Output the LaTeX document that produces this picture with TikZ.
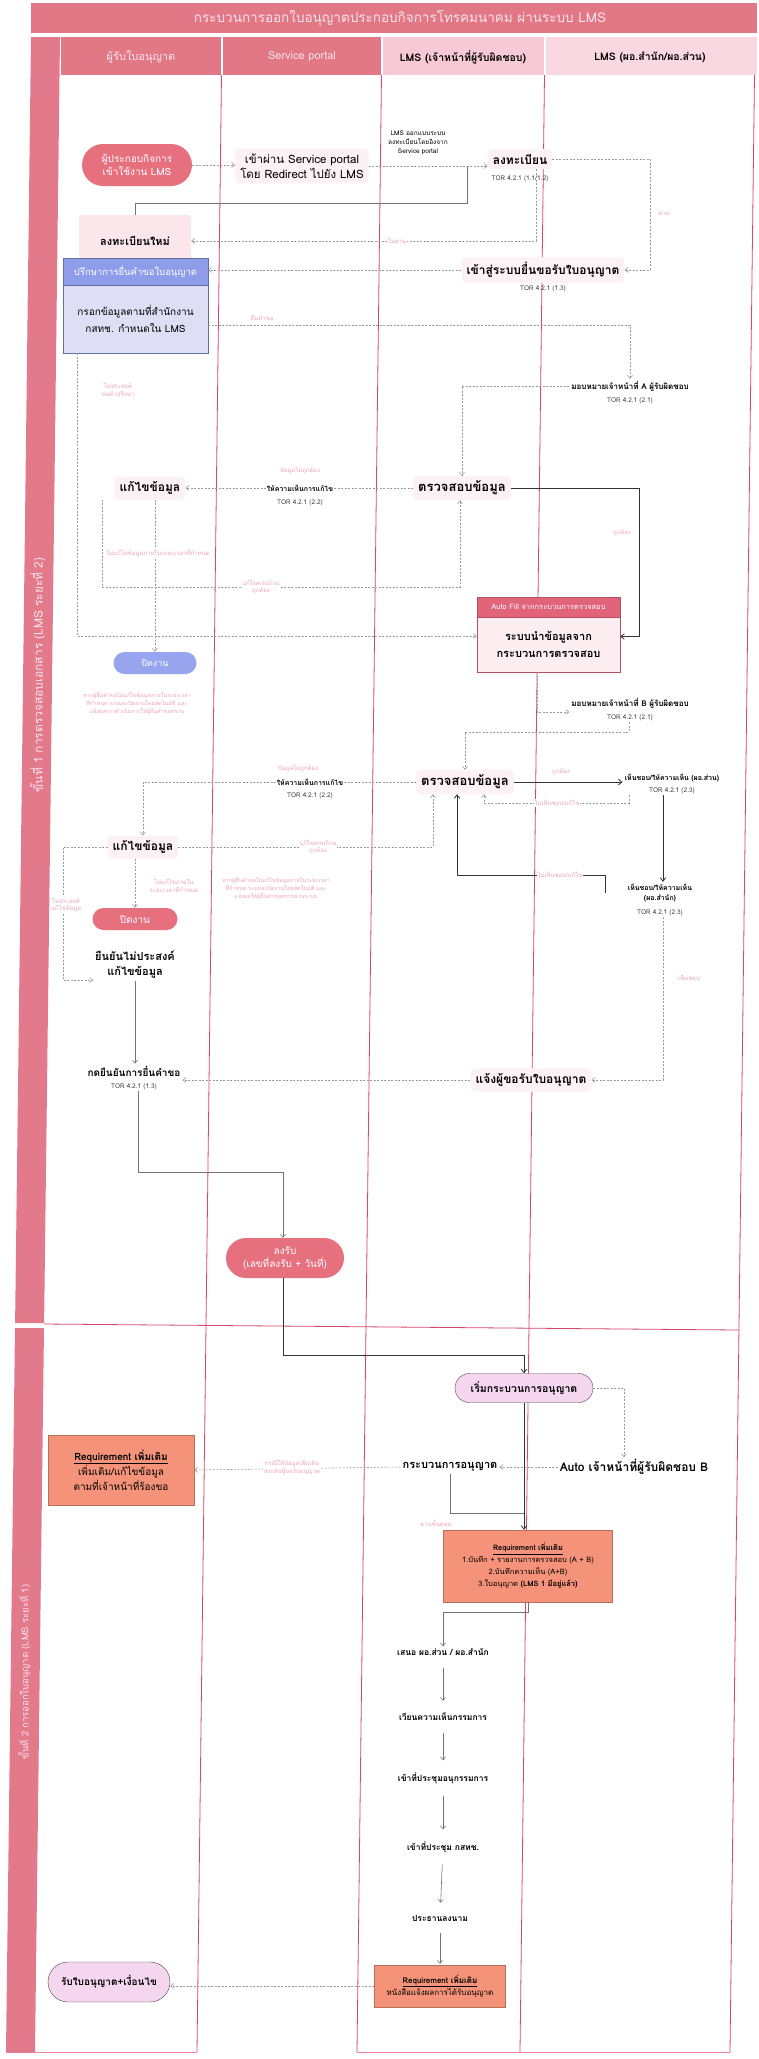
\documentclass[tikz,border=0pt]{standalone}
\usepackage{fontspec}
\setmainfont{Loma}[Script=Thai]
\usetikzlibrary{arrows.meta,calc,shapes.misc}
\definecolor{titlepink}{HTML}{E27786}
\definecolor{headlight}{HTML}{F7C9D6}
\definecolor{headlight2}{HTML}{F9D8E2}
\definecolor{lanered}{HTML}{D8466E}
\definecolor{strippink}{HTML}{E27A8C}
\definecolor{stadpink}{HTML}{E7707F}
\definecolor{blueHead}{HTML}{8E9DEA}
\definecolor{blueBody}{HTML}{DEDFF5}
\definecolor{blueStad}{HTML}{97A5EF}
\definecolor{afHead}{HTML}{E2647A}
\definecolor{afBody}{HTML}{FCEDF0}
\definecolor{salmon}{HTML}{F4937A}
\definecolor{lav}{HTML}{F5D6EF}
\definecolor{faintpink}{HTML}{EFA3B6}
\definecolor{haze}{HTML}{FCF2F5}
\definecolor{hazepink}{HTML}{FBE6EC}
\definecolor{cgray}{HTML}{9A9A9A}
\definecolor{headtext}{HTML}{FBE4E9}
\newcommand\fsz[2]{\fontsize{#1}{#2}\selectfont}
\tikzset{
  lane/.style={draw=lanered, line width=0.8pt},
  dconn/.style={draw=cgray, line width=0.6pt, dash pattern=on 2pt off 1.5pt, -{Straight Barb[length=3pt,width=5pt]}},
  sconn/.style={draw=black!80, line width=0.8pt, -{Straight Barb[length=3.5pt,width=5.5pt]}},
  tconn/.style={draw=black!55, line width=0.6pt, -{Straight Barb[length=3pt,width=5pt]}},
  txt/.style={align=center, inner sep=2pt, text=black},
  hz/.style={fill=haze, rounded corners=4pt, inner sep=5pt},
  tor/.style={font={\fsz{6.5}{8}}, text=black!75, inner sep=1pt},
  flab/.style={font={\fsz{6}{7.5}}, text=faintpink, align=center, inner sep=1pt, fill=white},
  stad/.style={rounded rectangle, align=center, inner sep=2pt},
  reqbox/.style={draw=salmon!75!black, fill=salmon, align=center, inner sep=3pt, text=black},
  flowdown/.style={tconn, shorten <=10pt, shorten >=10pt},
}
\begin{document}
\begin{tikzpicture}[x=1pt,y=-1pt]
\useasboundingbox (0,0) rectangle (759,2059);
\fill[white] (0,0) rectangle (759,2059);

% title and headers
\fill[titlepink] (31,3) rectangle (757,33);
\node[text=headtext, font={\fsz{13.5}{16}}] (title) at (400,18) {กระบวนการออกใบอนุญาตประกอบกิจการโทรคมนาคม ผ่านระบบ LMS};
\fill[titlepink] (61,37) rectangle (221,75);
\fill[titlepink] (223,37) rectangle (381,75);
\fill[headlight] (383,37) rectangle (544,75);
\fill[headlight2] (546,37) rectangle (757,75);
\node[text=headtext, font={\fsz{11}{13}}] (h1) at (141,57) {ผู้รับใบอนุญาต};
\node[text=headtext, font={\fsz{11}{13}}] (h2) at (302,57) {Service portal};
\node[text=black, font={\bfseries\fsz{10.5}{13}}] (h3) at (463,57) {LMS (เจ้าหน้าที่ผู้รับผิดชอบ)};
\node[text=black, font={\bfseries\fsz{10.5}{13}}] (h4) at (650,57) {LMS (ผอ.สำนัก/ผอ.ส่วน)};

% left strip
\fill[strippink] (31,37) -- (60,37) -- (44.1,1323) -- (15.1,1323) -- cycle;
\fill[strippink] (15,1328) -- (44,1328) -- (35,2052) -- (6,2052) -- cycle;
\node[rotate=90, text=headtext, font={\fsz{12}{14}}] (s1) at (37.5,675) {ขั้นที่ 1 การตรวจสอบเอกสาร (LMS ระยะที่ 2)};
\node[rotate=90, text=headtext, font={\fsz{9.5}{11}}] (s2) at (24.5,1672) {ขั้นที่ 2 การออกใบอนุญาต (LMS ระยะที่ 1)};

% lanes
\draw[lane] (221.5,75) -- (197,2052);
\draw[lane] (381.5,75) -- (357,2052);
\draw[lane] (544.5,75) -- (520,2052);
\draw[lane] (754.5,75) -- (730,2052);
\draw[lane] (44,1324) -- (739,1330);
\draw[lane, draw=lanered!70] (6,2052) -- (197,2052);
\draw[lane, draw=lanered!70] (357,2052) -- (730,2052);

% ---------------- section 1 nodes
\node[stad, fill=stadpink, text=white, minimum width=114, minimum height=42, font={\fsz{10}{13}}] (n1) at (137,165) {ผู้ประกอบกิจการ\\เข้าใช้งาน LMS};
\node[txt, hz, font={\fsz{11.5}{15}}] (n2) at (302,166) {เข้าผ่าน Service portal\\โดย Redirect ไปยัง LMS};
\node[txt, font={\fsz{6.5}{9}}] (n3) at (418,143) {LMS ออกแบบระบบ\\ลงทะเบียนโดยอิงจาก\\Service portal};
\node[txt, hz, font={\bfseries\fsz{12}{14}}] (n4) at (520,159) {ลงทะเบียน};
\node[tor] (t4) at (520,179) {TOR 4.2.1 (1.1/1.2)};
\node[txt, fill=hazepink, rounded corners=3pt, minimum width=112, minimum height=52, font={\bfseries\fsz{11}{14}}] (n5) at (135,241) {ลงทะเบียนใหม่};
\node[txt, hz, font={\bfseries\fsz{12}{14}}] (n6) at (543,270) {เข้าสู่ระบบยื่นขอรับใบอนุญาต};
\node[tor] (t6) at (543,289) {TOR 4.2.1 (1.3)};
\node[draw=blueHead!70!black, fill=blueHead, text=white, minimum width=145, minimum height=27, inner sep=1pt, font={\fsz{9.5}{12}}] (n7h) at (135.5,271.5) {ปรึกษาการยื่นคำขอใบอนุญาต};
\node[draw=blueHead!70!black, fill=blueBody, minimum width=145, minimum height=68, align=center, inner sep=1pt, font={\fsz{10}{17}}] (n7b) at (135.5,319) {กรอกข้อมูลตามที่สำนักงาน\\กสทช. กำหนดใน LMS};
\node[txt, font={\bfseries\fsz{8}{10}}] (n8) at (630,386) {มอบหมายเจ้าหน้าที่ A ผู้รับผิดชอบ};
\node[tor] (t8) at (630,401) {TOR 4.2.1 (2.1)};
\node[txt, hz, font={\bfseries\fsz{13}{15}}] (n9) at (462,488) {ตรวจสอบข้อมูล};
\node[txt, hz, font={\bfseries\fsz{12}{14}}] (n10) at (150,488) {แก้ไขข้อมูล};
\node[draw=afHead!80!black, fill=afHead, text=white, minimum width=143, minimum height=20, inner sep=1pt, font={\fsz{7.5}{9}}] (afh) at (548.5,607) {Auto Fill จากกระบวนการตรวจสอบ};
\node[draw=afHead!80!black, fill=afBody, minimum width=143, minimum height=55, align=center, inner sep=1pt, font={\bfseries\fsz{11}{17}}] (afb) at (548.5,644.5) {ระบบนำข้อมูลจาก\\กระบวนการตรวจสอบ};
\node[stad, fill=blueStad, text=white, minimum width=87, minimum height=22, font={\fsz{9}{11}}] (pj) at (155,663) {ปิดงาน};
\node[flab, fill=none, font={\fsz{5.5}{8}}] (note1) at (137,703) {หากผู้ยื่นคำขอไม่แก้ไขข้อมูลภายในระยะเวลา\\ที่กำหนด ระบบจะปิดงานโดยอัตโนมัติ และ\\แจ้งผลการดำเนินการให้ผู้ยื่นคำขอทราบ};
\node[txt, font={\bfseries\fsz{8}{10}}] (n11) at (630,703) {มอบหมายเจ้าหน้าที่ B ผู้รับผิดชอบ};
\node[tor] (t11) at (630,718) {TOR 4.2.1 (2.1)};
\node[txt, hz, font={\bfseries\fsz{13}{15}}] (n12) at (465,782) {ตรวจสอบข้อมูล};
\node[txt, font={\bfseries\fsz{7}{9}}] (n13) at (672,778) {เห็นชอบ/ให้ความเห็น (ผอ.ส่วน)};
\node[tor] (t13) at (672,791) {TOR 4.2.1 (2.3)};
\node[txt, hz, font={\bfseries\fsz{12}{14}}] (n14) at (143,847) {แก้ไขข้อมูล};
\node[txt, font={\bfseries\fsz{7}{10}}] (n15) at (660,893) {เห็นชอบ/ให้ความเห็น\\(ผอ.สำนัก)};
\node[tor] (t15) at (660,913) {TOR 4.2.1 (2.3)};
\node[stad, fill=stadpink, text=white, minimum width=89, minimum height=22, font={\fsz{10}{12}}] (pk) at (135,919) {ปิดงาน};
\node[flab, fill=none, font={\fsz{5.5}{8}}] (note2) at (276,888) {หากผู้ยื่นคำขอไม่แก้ไขข้อมูลภายในระยะเวลา\\ที่กำหนด ระบบจะปิดงานโดยอัตโนมัติ และ\\แจ้งผลให้ผู้ยื่นคำขอทราบผ่านระบบ};
\node[txt, font={\bfseries\fsz{11}{15}}] (n17) at (135,965) {ยืนยันไม่ประสงค์\\แก้ไขข้อมูล};
\node[txt, font={\bfseries\fsz{10}{12}}] (n18) at (134,1071) {กดยืนยันการยื่นคำขอ};
\node[tor] (t18) at (134,1087) {TOR 4.2.1 (1.3)};
\node[txt, hz, font={\bfseries\fsz{12}{14}}] (n19) at (531,1080) {แจ้งผู้ขอรับใบอนุญาต};
\node[stad, fill=stadpink, text=white, minimum width=122, minimum height=40, font={\fsz{10}{13}}] (n20) at (285,1258) {ลงรับ\\(เลขที่ลงรับ + วันที่)};

% ---------------- section 2 nodes
\node[stad, draw=black!70, fill=lav, minimum width=142, minimum height=29, font={\bfseries\fsz{10.5}{12}}] (n21) at (524,1388) {เริ่มกระบวนการอนุญาต};
\node[txt, font={\bfseries\fsz{12}{14}}] (n22) at (634,1467) {Auto เจ้าหน้าที่ผู้รับผิดชอบ B};
\node[txt, font={\bfseries\fsz{11}{14}}] (n23) at (450,1467) {กระบวนการอนุญาต};
\node[reqbox, minimum width=146, minimum height=70, font={\fsz{10}{15}}] (n24) at (121,1470) {\textbf{\underline{Requirement เพิ่มเติม}}\\เพิ่มเติม/แก้ไขข้อมูล\\ตามที่เจ้าหน้าที่ร้องขอ};
\node[reqbox, minimum width=169, minimum height=72, font={\fsz{7.5}{12}}] (n25) at (528,1566) {\textbf{\underline{Requirement เพิ่มเติม}}\\1.บันทึก + รายงานการตรวจสอบ (A + B)\\2.บันทึกความเห็น (A+B)\\3.ใบอนุญาต \textbf{(LMS 1 มีอยู่แล้ว)}};
\node[txt, font={\bfseries\fsz{8.5}{10}}] (n26) at (443,1652) {เสนอ ผอ.ส่วน / ผอ.สำนัก};
\node[txt, font={\bfseries\fsz{8.5}{10}}] (n27) at (443,1717) {เวียนความเห็นกรรมการ};
\node[txt, font={\bfseries\fsz{8.5}{10}}] (n28) at (443,1778) {เข้าที่ประชุมอนุกรรมการ};
\node[txt, font={\bfseries\fsz{8.5}{10}}] (n29) at (443,1847) {เข้าที่ประชุม กสทช.};
\node[txt, font={\bfseries\fsz{8.5}{10}}] (n30) at (440,1918) {ประธานลงนาม};
\node[reqbox, minimum width=131, minimum height=42, font={\fsz{8}{12}}] (n31) at (440,1986) {\textbf{\underline{Requirement เพิ่มเติม}}\\หนังสือแจ้งผลการได้รับอนุญาต};
\node[stad, draw=black!70, fill=lav, minimum width=126, minimum height=40, font={\bfseries\fsz{10}{12}}] (n32) at (109,1982) {รับใบอนุญาต+เงื่อนไข};

% ---------------- bend coordinates
\coordinate (j1) at (467,166);
\coordinate (j1b) at (467,203);
\coordinate (k4) at (536,0);
\coordinate (c5x) at (650,0);
\coordinate (c10x) at (639,0);
\coordinate (k11) at (102,587);
\coordinate (k11b) at (460,587);
\coordinate (k13) at (77,636);
\coordinate (k14) at (537,712);
\coordinate (k15) at (629,732);
\coordinate (k18) at (433,0);
\coordinate (k19a) at (629,803);
\coordinate (k19b) at (484,803);
\coordinate (k20) at (663,0);
\coordinate (k21a) at (605,875);
\coordinate (k21b) at (457,875);
\coordinate (k22) at (663,1080);
\coordinate (k24) at (63,980);
\coordinate (k27a) at (138,1172);
\coordinate (k27b) at (283,1172);
\coordinate (k28a) at (283,1355);
\coordinate (k29) at (624,0);
\coordinate (k33a) at (450,1513);
\coordinate (k34a) at (528,1612);
\coordinate (k34b) at (443,1612);

% ---------------- connectors section 1
\draw[dconn] (n1.east) -- (n1.east -| n2.west);
\draw[dconn] (n2.east) -- (n2.east -| n4.west);
\draw[draw=black!55, line width=0.6pt] (n5.north) |- (j1b) -- (j1);
\draw[dconn] (n4.south -| k4) |- (n5.east);
\node[flab] (l4) at (397,241) {ไม่ผ่าน};
\draw[dconn] (n4.east) -- (n4.east -| c5x) |- (n6.east);
\node[flab, fill=none] (l5) at (664,213) {ผ่าน};
\draw[dconn] (n6.west) -- (n6.west -| n7h.east);
\draw[dconn] ($(n7b.east)+(0,6)$) -| (n8.north);
\node[flab, fill=none] (l7) at (262,317) {ยื่นคำขอ};
\draw[dconn] (n8.west) -| (n9.north);
\draw[dconn] (n9.west) -- (n10.east);
\node[flab, fill=none] (l9a) at (300,471) {ข้อมูลไม่ถูกต้อง};
\node[txt, fill=white, inner sep=1pt, font={\bfseries\fsz{7}{9}}] (l9b) at (300,488) {ให้ความเห็นการแก้ไข};
\node[tor] (t9) at (300,503) {TOR 4.2.1 (2.2)};
\draw[sconn] (n9.east) -- (n9.east -| c10x) |- ($(afb.east)+(0,-8)$);
\node[flab, fill=none] (l10) at (622,533) {ถูกต้อง};
\draw[dconn] (n10.south west -| k11) -- (k11) -- (k11b) -- (k11b |- n9.south);
\node[flab] (l11) at (261,587) {แก้ไขครบถ้วน\\ถูกต้อง};
\draw[dconn] (pj.north |- n10.south) -- (pj.north);
\node[flab] (l12) at (158,553) {ไม่แก้ไขข้อมูลภายในระยะเวลาที่กำหนด};
\draw[dconn] (n7b.south -| k13) -- (k13) -- (k13 -| afb.west);
\node[flab, fill=none] (l13) at (118,390) {ไม่ประสงค์\\ขอคำปรึกษา};
\draw[dconn] (afb.south -| k14) -- (k14) -- (k14 -| n11.west);
\draw[dconn] (t11.south -| k15) -- (k15) -| (n12.north);
\draw[sconn] (n12.east) -- (n12.east -| n13.west);
\node[flab, fill=none] (l16) at (561,772) {ถูกต้อง};
\draw[dconn] (n12.west) -| (n14.north);
\node[flab, fill=none] (l17a) at (298,769) {ข้อมูลไม่ถูกต้อง};
\node[txt, fill=white, inner sep=1pt, font={\bfseries\fsz{7}{9}}] (l17b) at (310,782) {ให้ความเห็นการแก้ไข};
\node[tor] (t17) at (310,796) {TOR 4.2.1 (2.2)};
\draw[dconn] (n14.east) -- (n14.east -| k18) -- (k18 |- n12.south);
\node[flab] (l18) at (318,847) {แก้ไขครบถ้วน\\ถูกต้อง};
\draw[dconn] (t13.south -| k19a) -- (k19a) -- (k19b) -- (k19b |- n12.south);
\node[flab] (l19) at (557,803) {ไม่เห็นชอบ/แก้ไข};
\draw[sconn] (t13.south -| k20) -- (k20 |- n15.north);
\draw[sconn] (n15.west -| k21a) -- (k21a) -- (k21b) -- (k21b |- n12.south);
\node[flab] (l21) at (560,875) {ไม่เห็นชอบ/แก้ไข};
\draw[dconn] (t15.south -| k22) -- (k22) -- (k22 -| n19.east);
\node[flab, fill=none] (l22) at (689,978) {เห็นชอบ};
\draw[dconn] (n19.west) -- (n19.west -| n18.east);
\draw[dconn] (n14.west) -- (n14.west -| k24) -- (k24) -- (k24 -| n17.west);
\node[flab] (l24) at (66,905) {ไม่ประสงค์\\แก้ไขข้อมูล};
\draw[dconn] (pk.north |- n14.south) -- (pk.north);
\node[flab, fill=none] (l25) at (174,886) {ไม่แก้ไขภายใน\\ระยะเวลาที่กำหนด};
\draw[tconn] (n17.south) -- (n17.south |- n18.north);
\draw[tconn] (t18.south -| k27a) -- (k27a) -- (k27b) -- (k27b |- n20.north);
\draw[sconn] (n20.south -| k28a) -- (k28a) -| (n21.north);

% ---------------- connectors section 2
\draw[dconn] (n21.east) -- (n21.east -| k29) -- (k29 |- n22.north);
\draw[dconn] (n22.west) -- (n23.east);
\draw[dconn] (n23.west) -- (n24.east);
\node[flab] (l31) at (292,1467) {กรณีให้ข้อมูลเพิ่มเติม\\ส่งกลับผู้ขอรับอนุญาต};
\draw[sconn] (n21.south) -- (n21.south |- n25.north);
\draw[draw=black!55, line width=0.6pt] (n23.south) -- (k33a) -- (k33a -| n21.south);
\node[flab, fill=none] (l33) at (436,1523) {ตามขั้นตอน};
\draw[tconn] (n25.south -| k34a) -- (k34a) -- (k34b) -- (k34b |- n26.north);
\draw[flowdown] (n26) -- (n27);
\draw[flowdown] (n27) -- (n28);
\draw[flowdown] (n28) -- (n29);
\draw[flowdown] (n29) -- (n30);
\draw[tconn, shorten <=10pt, shorten >=1pt] (n30) -- (n31);
\draw[dconn] (n31.west) -- (n31.west -| n32.east);
\end{tikzpicture}
\end{document}
